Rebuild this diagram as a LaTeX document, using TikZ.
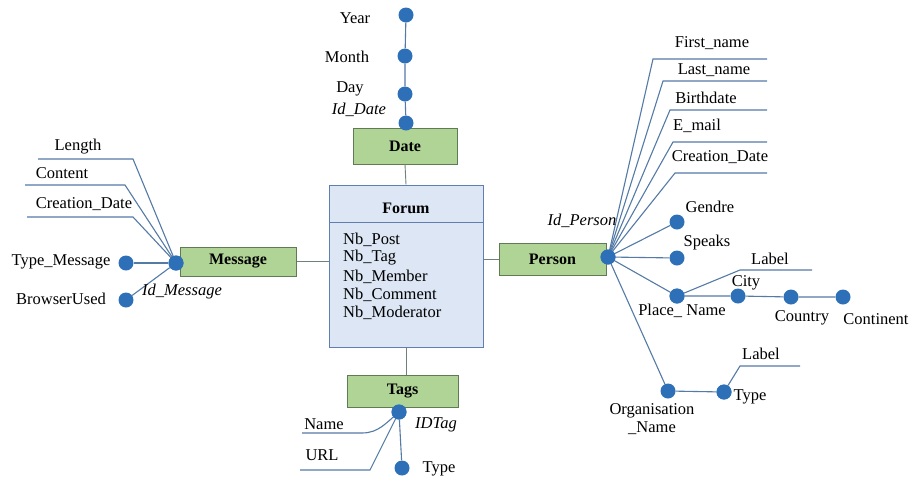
\documentclass[tikz,border=0pt]{standalone}
\usepackage{fontspec}
\setmainfont{Liberation Serif}
\definecolor{linkc}{RGB}{84,122,166}
\definecolor{joinc}{RGB}{110,130,120}
\definecolor{dotc}{RGB}{46,112,184}
\definecolor{entfill}{RGB}{176,212,150}
\definecolor{entdraw}{RGB}{96,122,86}
\definecolor{forfill}{RGB}{220,230,244}
\definecolor{fordraw}{RGB}{96,126,176}
\begin{document}
\begin{tikzpicture}[x=1pt,y=-1pt,
  ent/.style={draw=entdraw,line width=1pt,fill=entfill,inner sep=0pt,font=\fontsize{16}{18}\selectfont\bfseries},
  adot/.style={circle,fill=dotc,inner sep=0pt,minimum size=15pt},
  lnk/.style={draw=linkc,line width=1.1pt},
  factlink/.style={draw=joinc,line width=0.9pt},
  txt/.style={inner sep=0pt,font=\fontsize{16.5}{18}\selectfont},
  itxt/.style={txt,font=\fontsize{16.5}{18}\selectfont\itshape}]
\useasboundingbox (0,0) rectangle (914,483);

% ---------- central fact ----------
\node[draw=fordraw,line width=1pt,fill=forfill,minimum width=154pt,minimum height=162pt,inner sep=0pt] (forum) at (406,266) {};
\draw[draw=fordraw,line width=1pt] (329,222) -- (483,222);
\node[txt,font=\fontsize{16}{18}\selectfont\bfseries] (forumt) at (406,208) {Forum};
\node[txt,anchor=west] (m1) at (343,240) {Nb\_Post};
\node[txt,anchor=west] (m2) at (343,258) {Nb\_Tag};
\node[txt,anchor=west] (m3) at (343,276.5) {Nb\_Member};
\node[txt,anchor=west] (m4) at (343,295) {Nb\_Comment};
\node[txt,anchor=west] (m5) at (343,313) {Nb\_Moderator};

% ---------- Date dimension ----------
\node[ent,minimum width=104pt,minimum height=36pt] (date) at (405,146) {Date};
\node[adot] (dyear) at (406,15) {};
\node[adot] (dmonth) at (405,56) {};
\node[adot] (dday) at (405,94) {};
\node[adot] (did) at (406,123) {};
\draw[lnk] (dyear) -- (dmonth) -- (dday) -- (did);
\draw[factlink] (date.south) -- (forum.north);
\node[txt] (tyear) at (355,18) {Year};
\node[txt] (tmonth) at (347,57) {Month};
\node[txt] (tday) at (350,89) {Day};
\node[itxt] (tdid) at (359,110) {Id\_Date};

% ---------- Message dimension ----------
\node[ent,minimum width=116pt,minimum height=29pt] (msg) at (238,261.5) {Message};
\node[adot] (mdot) at (176,263) {};
\node[adot] (mtype) at (126,263) {};
\node[adot] (mbrow) at (126,300) {};
\draw[lnk] (mtype) -- (mdot);
\draw[lnk] (mbrow) -- (mdot);
\coordinate (ml1) at (38,159);  \coordinate (ml2) at (133,159);
\coordinate (mc1) at (25,185);  \coordinate (mc2) at (125,185);
\coordinate (md1) at (27,217);  \coordinate (md2) at (133,217);
\draw[lnk] (ml1) -- (ml2) -- (mdot.center);
\draw[lnk] (mc1) -- (mc2) -- (mdot.center);
\draw[lnk] (md1) -- (md2) -- (mdot.center);
\node[adot] at (mdot) {};
\draw[factlink] (msg.east) -- (msg.east -| forum.west);
\node[txt] (tlen) at (78,147) {Length};
\node[txt] (tcont) at (62,173) {Content};
\node[txt] (tcd) at (84,204) {Creation\_Date};
\node[txt] (ttm) at (61,262) {Type\_Message};
\node[txt] (tbu) at (61,299) {BrowserUsed};
\node[itxt] (tidm) at (182,292) {Id\_Message};

% ---------- Person dimension ----------
\node[ent,minimum width=107pt,minimum height=32pt] (pers) at (552.5,259) {Person};
\draw[factlink] (pers.west) -- (pers.west -| forum.east);
\node[adot] (pdot) at (608,257) {};
\coordinate (pf1) at (653,59);  \coordinate (pf2) at (767,59);
\coordinate (pl1) at (663,81);  \coordinate (pl2) at (767,81);
\coordinate (pb1) at (670,110); \coordinate (pb2) at (767,110);
\coordinate (pe1) at (673,142); \coordinate (pe2) at (767,142);
\coordinate (pc1) at (675,173); \coordinate (pc2) at (767,173);
\foreach \a/\b in {pf1/pf2,pl1/pl2,pb1/pb2,pe1/pe2,pc1/pc2}
  \draw[lnk] (pdot.center) -- (\a) -- (\b);
\node[txt] (tfn) at (712,43) {First\_name};
\node[txt] (tln) at (714,70) {Last\_name};
\node[txt] (tbd) at (706,98) {Birthdate};
\node[txt] (tem) at (697,126) {E\_mail};
\node[txt] (tcdp) at (720,157) {Creation\_Date};
\node[itxt] (tidp) at (582,221) {Id\_Person};

\node[adot] (pgen) at (677,222) {};
\node[adot] (pspk) at (677,258) {};
\node[adot] (pplace) at (677,296) {};
\node[adot] (pcity) at (738,296) {};
\node[adot] (pcountry) at (791,297) {};
\node[adot] (pcont) at (843,297) {};
\node[adot] (porg) at (668,391) {};
\node[adot] (ptype) at (724,392) {};
\draw[lnk] (pdot.center) -- (pgen);
\draw[lnk] (pdot.center) -- (pspk);
\draw[lnk] (pdot.center) -- (pplace);
\draw[lnk] (pdot.center) -- (porg);
\draw[lnk] (pplace) -- (pcity) -- (pcountry) -- (pcont);
\draw[lnk] (porg) -- (ptype);
\coordinate (plab1) at (740,270); \coordinate (plab2) at (812,270);
\draw[lnk] (pplace) -- (plab1) -- (plab2);
\coordinate (olab1) at (740,366); \coordinate (olab2) at (800,366);
\draw[lnk] (ptype) -- (olab1) -- (olab2);
\node[adot] at (pdot) {};
\node[adot] at (ptype) {};
\node[adot] at (pplace) {};
\node[txt] (tgen) at (710,207) {Gendre};
\node[txt] (tspk) at (707,243) {Speaks};
\node[txt] (tlab1) at (770,259) {Label};
\node[txt] (tcity) at (746,283) {City};
\node[txt] (tplace) at (682,311) {Place\_ Name};
\node[txt] (tcountry) at (802,318) {Country};
\node[txt] (tcont) at (876,319) {Continent};
\node[txt] (tlab2) at (761,354) {Label};
\node[txt] (ttype2) at (750,397) {Type};
\node[txt,align=center] (torg) at (652,419) {Organisation\\\_Name};

% ---------- Tags dimension ----------
\node[ent,minimum width=111pt,minimum height=32pt] (tags) at (402.5,391) {Tags};
\draw[factlink] (forum.south) -- (forum.south |- tags.north);
\node[adot] (tdot) at (399,412) {};
\node[adot] (ttype) at (402,468) {};
\draw[lnk] (tdot) -- (ttype);
\coordinate (tn1) at (302,433); \coordinate (tn2) at (362,433);
\coordinate (tu1) at (300,470); \coordinate (tu2) at (370,470);
\draw[lnk] (tn1) -- (tn2) to[out=0,in=-140] (tdot.center);
\draw[lnk] (tu1) -- (tu2) -- (tdot.center);
\node[adot] at (tdot) {};
\node[txt] (tname) at (324,424) {Name};
\node[txt] (turl) at (322,455) {URL};
\node[itxt] (tidt) at (436,425) {IDTag};
\node[txt] (ttyp) at (439,469) {Type};
\end{tikzpicture}
\end{document}
